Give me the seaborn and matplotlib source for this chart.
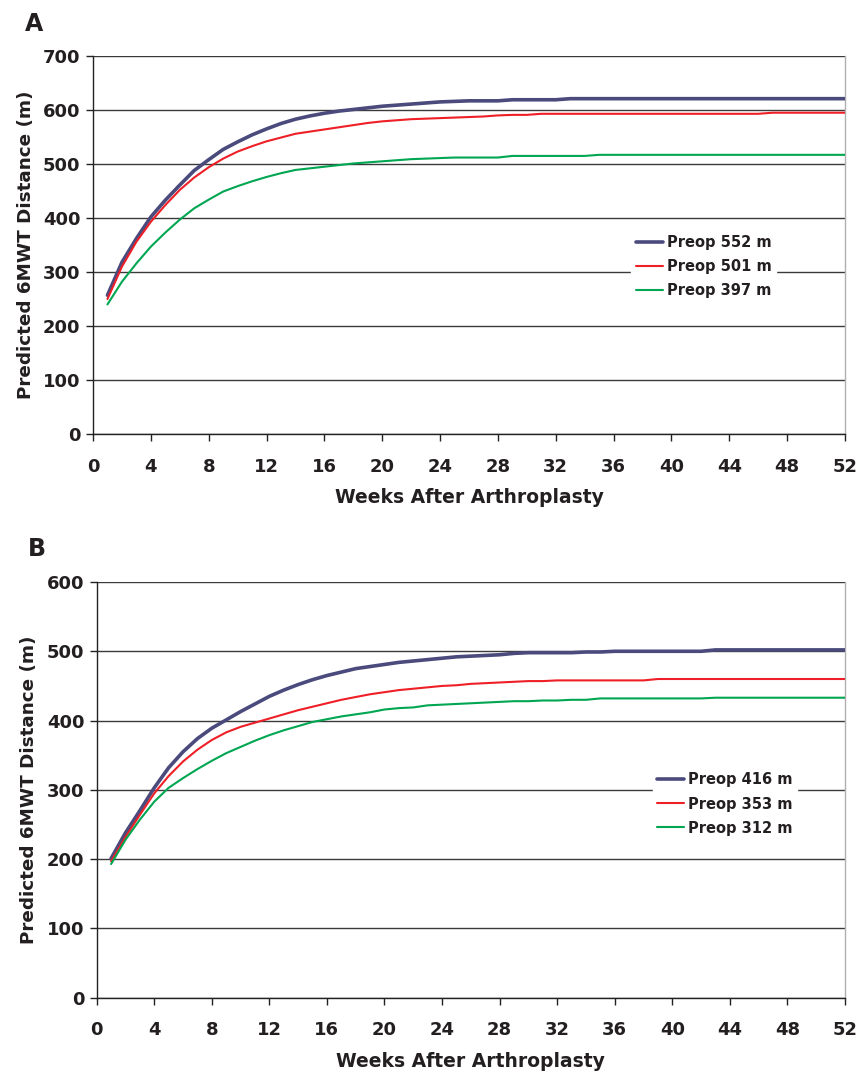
import matplotlib
matplotlib.use("Agg")
import matplotlib.pyplot as plt
from matplotlib.font_manager import FontProperties
import seaborn as sns
import pandas as pd

# Weeks after surgery
weeks = list(range(1, 53))

# Panel A: predicted 6MWT distance (m) by preoperative distance
a_labels = ["Preop 552 m", "Preop 501 m", "Preop 397 m"]
a_552 = [257, 318, 362, 402, 433, 461, 488, 508, 527, 541, 554, 565, 575, 583, 589, 594,
         598, 601, 604, 607, 609, 611, 613, 615, 616, 617, 617, 617, 619, 619, 619, 619,
         621, 621, 621, 621, 621, 621, 621, 621, 621, 621, 621, 621, 621, 621, 621, 621,
         621, 621, 621, 621]
a_501 = [250, 310, 356, 393, 424, 452, 475, 494, 510, 523, 533, 542, 549, 556, 560, 564,
         568, 572, 576, 579, 581, 583, 584, 585, 586, 587, 588, 590, 591, 591, 593, 593,
         593, 593, 593, 593, 593, 593, 593, 593, 593, 593, 593, 593, 593, 593, 595, 595,
         595, 595, 595, 595]
a_397 = [240, 282, 316, 347, 373, 397, 418, 434, 449, 459, 468, 476, 483, 489, 492, 495,
         498, 501, 503, 505, 507, 509, 510, 511, 512, 512, 512, 512, 515, 515, 515, 515,
         515, 515, 517, 517, 517, 517, 517, 517, 517, 517, 517, 517, 517, 517, 517, 517,
         517, 517, 517, 517]

# Panel B
b_labels = ["Preop 416 m", "Preop 353 m", "Preop 312 m"]
b_416 = [201, 238, 270, 303, 332, 355, 374, 389, 401, 413, 424, 435, 444, 452, 459, 465,
         470, 475, 478, 481, 484, 486, 488, 490, 492, 493, 494, 495, 497, 498, 498, 498,
         498, 499, 499, 500, 500, 500, 500, 500, 500, 500, 502, 502, 502, 502, 502, 502,
         502, 502, 502, 502]
b_353 = [197, 232, 264, 295, 320, 341, 358, 372, 383, 391, 397, 403, 409, 415, 420, 425,
         430, 434, 438, 441, 444, 446, 448, 450, 451, 453, 454, 455, 456, 457, 457, 458,
         458, 458, 458, 458, 458, 458, 460, 460, 460, 460, 460, 460, 460, 460, 460, 460,
         460, 460, 460, 460]
b_312 = [193, 228, 257, 283, 303, 317, 330, 342, 353, 362, 371, 379, 386, 392, 398, 402,
         406, 409, 412, 416, 418, 419, 422, 423, 424, 425, 426, 427, 428, 428, 429, 429,
         430, 430, 432, 432, 432, 432, 432, 432, 432, 432, 433, 433, 433, 433, 433, 433,
         433, 433, 433, 433]

x_ticks = list(range(0, 53, 4))
a_yticks = list(range(0, 701, 100))
b_yticks = list(range(0, 601, 100))

colors = ["#4a4a7c", "#ee1f26", "#00a651"]
widths = [2.6, 1.5, 1.5]
ink = "#231f20"

sns.set_style("white")
plt.rcParams["font.family"] = ["DejaVu Sans"]
plt.rcParams["font.weight"] = "bold"

legend_font = FontProperties(family="DejaVu Sans", weight="bold",
                             stretch="normal", size=10.5)

fig = plt.figure(figsize=(8.58, 10.73), dpi=100)
ax_a = fig.add_axes([0.1084, 0.5955, 0.8764, 0.3523])
ax_b = fig.add_axes([0.1127, 0.0701, 0.8721, 0.3875])


def draw_panel(ax, labels, series, yticks, ymax, legend_anchor):
    frames = []
    for lab, vals in zip(labels, series):
        frames.append(pd.DataFrame({"week": weeks, "dist": vals, "group": lab}))
    df = pd.concat(frames, ignore_index=True)
    for lab, col, lw in zip(labels, colors, widths):
        sns.lineplot(data=df[df["group"] == lab], x="week", y="dist", ax=ax,
                     color=col, linewidth=lw, label=lab, zorder=3)
    ax.set_xlim(0, 52)
    ax.set_ylim(0, ymax)
    ax.set_xticks(x_ticks)
    ax.set_yticks(yticks)
    ax.yaxis.grid(True, color="#3a3a3a", linewidth=1.0)
    ax.xaxis.grid(False)
    ax.set_axisbelow(True)
    for side in ["left", "bottom"]:
        ax.spines[side].set_color("#222222")
        ax.spines[side].set_linewidth(1.0)
    ax.spines["top"].set_visible(False)
    ax.spines["right"].set_color("#b0b0b0")
    ax.spines["right"].set_linewidth(1.0)
    ax.tick_params(axis="x", direction="out", length=5, width=1, color="#222222",
                   pad=12, labelsize=13, labelcolor=ink)
    ax.tick_params(axis="y", direction="out", length=5, width=1, color="#222222",
                   pad=4, labelsize=13, labelcolor=ink)
    ax.tick_params(bottom=True, left=True)
    for t in ax.get_xticklabels() + ax.get_yticklabels():
        t.set_fontweight("bold")
    ax.set_xlabel("Weeks After Arthroplasty", fontsize=13.5, fontweight="bold",
                  color=ink, labelpad=9)
    ax.set_ylabel("Predicted 6MWT Distance (m)", fontsize=13.2, fontweight="bold",
                  color=ink, labelpad=6)
    leg = ax.legend(loc="center left", bbox_to_anchor=legend_anchor, frameon=True,
                    fancybox=False, framealpha=1.0, edgecolor="white",
                    handlelength=1.85, handletextpad=0.3, labelspacing=0.62,
                    borderpad=0.3, borderaxespad=0.0, prop=legend_font)
    for txt in leg.get_texts():
        txt.set_color(ink)
    leg.set_zorder(5)


draw_panel(ax_a, a_labels, [a_552, a_501, a_397], a_yticks, 700, (0.716, 0.442))
draw_panel(ax_b, b_labels, [b_416, b_353, b_312], b_yticks, 600, (0.743, 0.466))

fig.text(0.029, 0.978, "A", fontsize=17, fontweight="bold", color=ink,
         ha="left", va="center")
fig.text(0.032, 0.488, "B", fontsize=17, fontweight="bold", color=ink,
         ha="left", va="center")

fig.savefig("out.png", dpi=100, facecolor="white")
